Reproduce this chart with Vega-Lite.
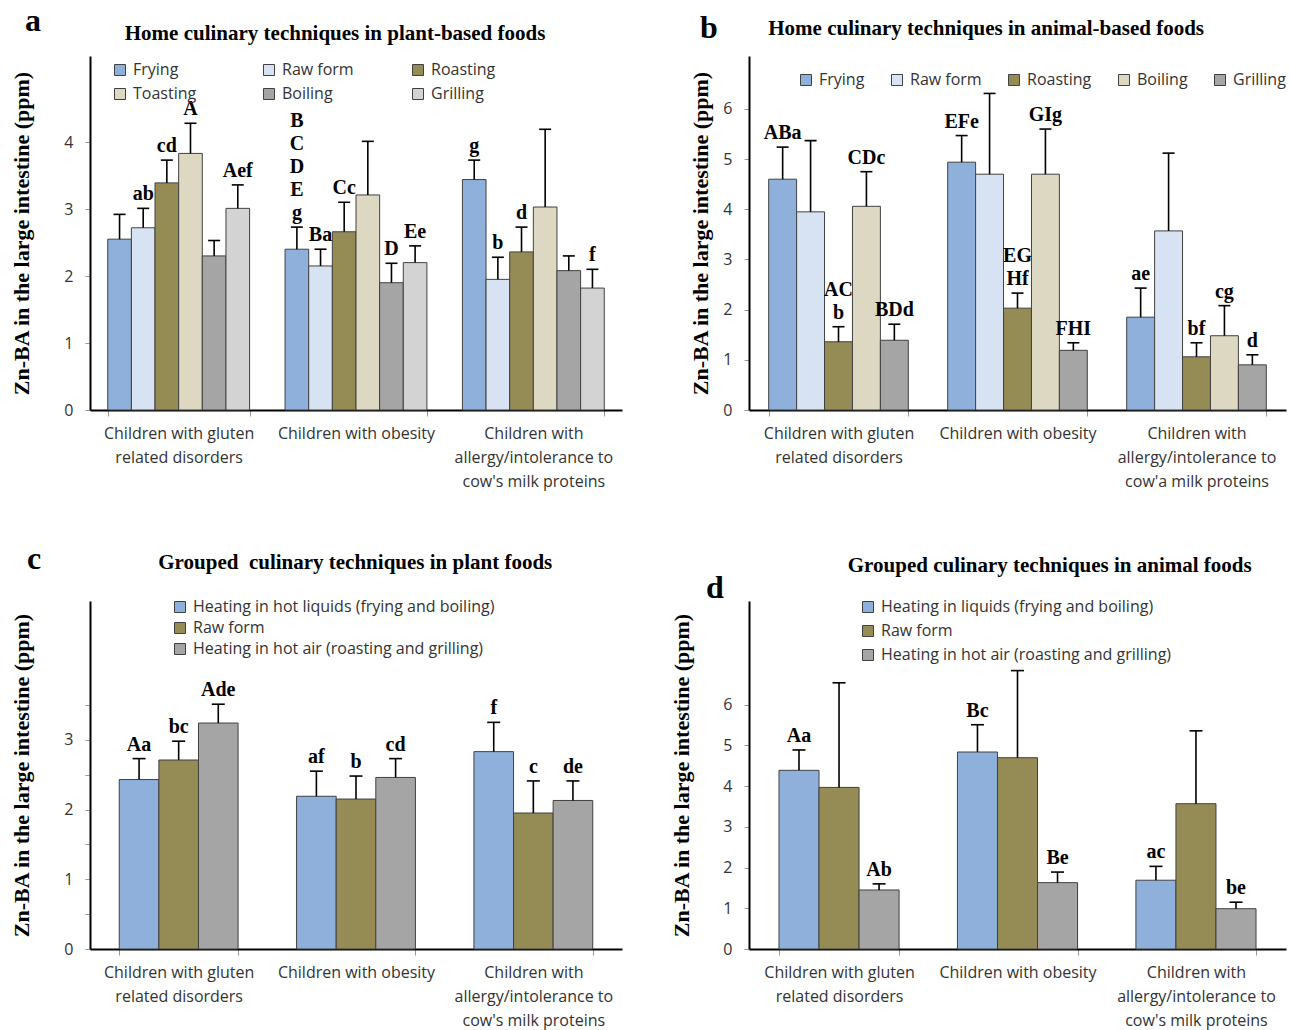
{
 "$schema": "https://vega.github.io/schema/vega-lite/v6.json",
 "background": "white",
 "padding": {"left": 10, "top": 5, "right": 2, "bottom": 2},
 "config": {
  "view": {"stroke": null},
  "axisX": {"labelAngle": 0, "labelExpr": "split(datum.label, '|')", "tickBand": "extent", "tickSize": 6, "tickColor": "#999", "domainColor": "#000", "domainWidth": 2, "labelFont": "Open Sans", "labelFontSize": 16, "labelColor": "#333", "labelLineHeight": 24, "labelPadding": 9, "labelLimit": 300, "grid": false},
  "axisY": {"grid": false, "format": "d", "domainColor": "#000", "domainWidth": 2, "tickColor": "#999", "tickSize": 5, "labelPadding": 12, "labelFont": "Open Sans", "labelFontSize": 16, "labelColor": "#333", "titleFont": "Liberation Serif", "titleFontSize": 22, "titleFontWeight": "bold", "titleColor": "#000"},
  "legend": {"orient": "none", "symbolType": "square", "symbolSize": 121, "symbolStrokeColor": "#404040", "symbolStrokeWidth": 1, "labelFont": "Open Sans", "labelFontSize": 16, "labelColor": "#333", "labelLimit": 400, "padding": 0, "labelOffset": 5},
  "title": {"font": "Liberation Serif", "fontWeight": "bold", "fontSize": 32, "color": "#000", "baseline": "top", "frame": "group", "anchor": "start", "subtitleFont": "Liberation Serif", "subtitleFontWeight": "bold", "subtitleFontSize": 21, "subtitleColor": "#000"}
 },
 "datasets": {
  "pa": [
   {"g": "Children with gluten|related disorders", "m": "Frying", "v": 2.55, "e": 2.92, "lab": ""},
   {"g": "Children with gluten|related disorders", "m": "Raw form", "v": 2.72, "e": 3.01, "lab": "ab"},
   {"g": "Children with gluten|related disorders", "m": "Roasting", "v": 3.39, "e": 3.73, "lab": "cd"},
   {"g": "Children with gluten|related disorders", "m": "Toasting", "v": 3.83, "e": 4.28, "lab": "A"},
   {"g": "Children with gluten|related disorders", "m": "Boiling", "v": 2.30, "e": 2.53, "lab": ""},
   {"g": "Children with gluten|related disorders", "m": "Grilling", "v": 3.01, "e": 3.36, "lab": "Aef"},
   {"g": "Children with obesity", "m": "Frying", "v": 2.40, "e": 2.73, "lab": "B\nC\nD\nE\ng"},
   {"g": "Children with obesity", "m": "Raw form", "v": 2.15, "e": 2.40, "lab": "Ba"},
   {"g": "Children with obesity", "m": "Roasting", "v": 2.66, "e": 3.10, "lab": "Cc"},
   {"g": "Children with obesity", "m": "Toasting", "v": 3.21, "e": 4.01, "lab": ""},
   {"g": "Children with obesity", "m": "Boiling", "v": 1.90, "e": 2.19, "lab": "D"},
   {"g": "Children with obesity", "m": "Grilling", "v": 2.20, "e": 2.45, "lab": "Ee"},
   {"g": "Children with|allergy/intolerance to|cow's milk proteins", "m": "Frying", "v": 3.44, "e": 3.73, "lab": "g"},
   {"g": "Children with|allergy/intolerance to|cow's milk proteins", "m": "Raw form", "v": 1.95, "e": 2.28, "lab": "b"},
   {"g": "Children with|allergy/intolerance to|cow's milk proteins", "m": "Roasting", "v": 2.36, "e": 2.73, "lab": "d"},
   {"g": "Children with|allergy/intolerance to|cow's milk proteins", "m": "Toasting", "v": 3.03, "e": 4.19, "lab": ""},
   {"g": "Children with|allergy/intolerance to|cow's milk proteins", "m": "Boiling", "v": 2.08, "e": 2.30, "lab": ""},
   {"g": "Children with|allergy/intolerance to|cow's milk proteins", "m": "Grilling", "v": 1.82, "e": 2.10, "lab": "f"}
  ],
  "pb": [
   {"g": "Children with gluten|related disorders", "m": "Frying", "v": 4.60, "e": 5.24, "lab": "ABa"},
   {"g": "Children with gluten|related disorders", "m": "Raw form", "v": 3.95, "e": 5.37, "lab": ""},
   {"g": "Children with gluten|related disorders", "m": "Roasting", "v": 1.36, "e": 1.66, "lab": "AC\nb"},
   {"g": "Children with gluten|related disorders", "m": "Boiling", "v": 4.06, "e": 4.75, "lab": "CDc"},
   {"g": "Children with gluten|related disorders", "m": "Grilling", "v": 1.39, "e": 1.71, "lab": "BDd"},
   {"g": "Children with obesity", "m": "Frying", "v": 4.94, "e": 5.47, "lab": "EFe"},
   {"g": "Children with obesity", "m": "Raw form", "v": 4.70, "e": 6.31, "lab": ""},
   {"g": "Children with obesity", "m": "Roasting", "v": 2.03, "e": 2.33, "lab": "EG\nHf"},
   {"g": "Children with obesity", "m": "Boiling", "v": 4.70, "e": 5.60, "lab": "GIg"},
   {"g": "Children with obesity", "m": "Grilling", "v": 1.19, "e": 1.34, "lab": "FHI"},
   {"g": "Children with|allergy/intolerance to|cow'a milk proteins", "m": "Frying", "v": 1.85, "e": 2.43, "lab": "ae"},
   {"g": "Children with|allergy/intolerance to|cow'a milk proteins", "m": "Raw form", "v": 3.57, "e": 5.12, "lab": ""},
   {"g": "Children with|allergy/intolerance to|cow'a milk proteins", "m": "Roasting", "v": 1.06, "e": 1.34, "lab": "bf"},
   {"g": "Children with|allergy/intolerance to|cow'a milk proteins", "m": "Boiling", "v": 1.48, "e": 2.08, "lab": "cg"},
   {"g": "Children with|allergy/intolerance to|cow'a milk proteins", "m": "Grilling", "v": 0.90, "e": 1.10, "lab": "d"}
  ],
  "pc": [
   {"g": "Children with gluten|related disorders", "m": "Heating in hot liquids (frying and boiling)", "v": 2.43, "e": 2.73, "lab": "Aa"},
   {"g": "Children with gluten|related disorders", "m": "Raw form", "v": 2.71, "e": 2.98, "lab": "bc"},
   {"g": "Children with gluten|related disorders", "m": "Heating in hot air (roasting and grilling)", "v": 3.24, "e": 3.51, "lab": "Ade"},
   {"g": "Children with obesity", "m": "Heating in hot liquids (frying and boiling)", "v": 2.19, "e": 2.55, "lab": "af"},
   {"g": "Children with obesity", "m": "Raw form", "v": 2.15, "e": 2.48, "lab": "b"},
   {"g": "Children with obesity", "m": "Heating in hot air (roasting and grilling)", "v": 2.46, "e": 2.73, "lab": "cd"},
   {"g": "Children with|allergy/intolerance to|cow's milk proteins", "m": "Heating in hot liquids (frying and boiling)", "v": 2.83, "e": 3.25, "lab": "f"},
   {"g": "Children with|allergy/intolerance to|cow's milk proteins", "m": "Raw form", "v": 1.95, "e": 2.41, "lab": "c"},
   {"g": "Children with|allergy/intolerance to|cow's milk proteins", "m": "Heating in hot air (roasting and grilling)", "v": 2.13, "e": 2.41, "lab": "de"}
  ],
  "pd": [
   {"g": "Children with gluten|related disorders", "m": "Heating in liquids (frying and boiling)", "v": 4.39, "e": 4.89, "lab": "Aa"},
   {"g": "Children with gluten|related disorders", "m": "Raw form", "v": 3.97, "e": 6.54, "lab": ""},
   {"g": "Children with gluten|related disorders", "m": "Heating in hot air (roasting and grilling)", "v": 1.45, "e": 1.60, "lab": "Ab"},
   {"g": "Children with obesity", "m": "Heating in liquids (frying and boiling)", "v": 4.84, "e": 5.51, "lab": "Bc"},
   {"g": "Children with obesity", "m": "Raw form", "v": 4.70, "e": 6.84, "lab": ""},
   {"g": "Children with obesity", "m": "Heating in hot air (roasting and grilling)", "v": 1.63, "e": 1.89, "lab": "Be"},
   {"g": "Children with|allergy/intolerance to|cow's milk proteins", "m": "Heating in liquids (frying and boiling)", "v": 1.69, "e": 2.03, "lab": "ac"},
   {"g": "Children with|allergy/intolerance to|cow's milk proteins", "m": "Raw form", "v": 3.57, "e": 5.36, "lab": ""},
   {"g": "Children with|allergy/intolerance to|cow's milk proteins", "m": "Heating in hot air (roasting and grilling)", "v": 0.99, "e": 1.15, "lab": "be"}
  ]
 },
 "columns": 2,
 "bounds": "flush",
 "align": "all",
 "spacing": {"row": 191, "column": 122},
 "resolve": {"scale": {"color": "independent", "xOffset": "independent", "x": "independent", "y": "independent"}, "legend": {"color": "independent"}},
 "concat": [
  {
   "width": 532, "height": 354,
   "data": {"name": "pa"},
   "title": {"text": "a", "subtitle": "\u200b\u00a0\u00a0\u00a0\u00a0\u00a0\u00a0\u00a0\u00a0\u00a0\u00a0\u00a0\u00a0\u00a0\u00a0\u00a0\u00a0\u00a0\u00a0\u00a0Home culinary techniques in plant-based foods", "dx": -65, "offset": 11, "subtitlePadding": -15},
   "encoding": {
    "x": {"field": "g", "type": "nominal", "sort": null, "title": null, "scale": {"paddingInner": 0.2, "paddingOuter": 0.1}},
    "xOffset": {"field": "m", "type": "nominal", "sort": null, "scale": {"paddingInner": 0, "paddingOuter": 0}}
   },
   "layer": [
    {"mark": {"type": "bar", "stroke": "#404040", "strokeWidth": 1},
     "encoding": {
      "y": {"field": "v", "type": "quantitative", "title": "Zn-BA in the large intestine (ppm)", "scale": {"domain": [0, 5.284], "nice": false}, "axis": {"values": [0, 0.5, 1, 1.5, 2, 2.5, 3, 3.5, 4, 4.5], "labelExpr": "datum.value % 1 === 0 ? datum.label : ''", "titlePadding": 30}},
      "color": {"field": "m", "type": "nominal", "scale": {"domain": ["Frying", "Raw form", "Roasting", "Toasting", "Boiling", "Grilling"], "range": ["#8EB0DA", "#D7E3F2", "#958B55", "#DDD8C1", "#A5A5A5", "#D3D3D3"]}, "legend": {"title": null, "direction": "horizontal", "columns": 3, "gridAlign": "all", "columnPadding": 56, "rowPadding": 8, "legendX": 22, "legendY": 6}}
     }},
    {"mark": {"type": "rule", "color": "#000", "strokeWidth": 1.6}, "encoding": {"y": {"field": "v", "type": "quantitative", "title": "Zn-BA in the large intestine (ppm)"}, "y2": {"field": "e"}}},
    {"mark": {"type": "tick", "color": "#000", "thickness": 1.6, "size": 12, "opacity": 1}, "encoding": {"y": {"field": "e", "type": "quantitative", "title": "Zn-BA in the large intestine (ppm)"}}},
    {"transform": [{"filter": "indexof(datum.lab, '\\n') < 0"}], "mark": {"type": "text", "baseline": "bottom", "dy": -4, "font": "Liberation Serif", "fontSize": 20, "fontWeight": "bold", "color": "#000"}, "encoding": {"y": {"field": "e", "type": "quantitative", "title": "Zn-BA in the large intestine (ppm)"}, "text": {"field": "lab"}}},
    {"transform": [{"filter": "indexof(datum.lab, '\\n') >= 0"}], "mark": {"type": "text", "baseline": "bottom", "dy": -96, "font": "Liberation Serif", "fontSize": 20, "fontWeight": "bold", "lineBreak": "\n", "lineHeight": 23, "color": "#000"}, "encoding": {"y": {"field": "e", "type": "quantitative", "title": "Zn-BA in the large intestine (ppm)"}, "text": {"field": "lab"}}}
   ]
  },
  {
   "width": 537, "height": 354,
   "data": {"name": "pb"},
   "title": {"text": "b", "subtitle": "\u200b\u00a0\u00a0\u00a0\u00a0\u00a0\u00a0\u00a0\u00a0\u00a0\u00a0\u00a0\u00a0\u00a0Home culinary techniques in animal-based foods", "dx": -49, "offset": 11, "subtitlePadding": -27},
   "encoding": {
    "x": {"field": "g", "type": "nominal", "sort": null, "title": null, "scale": {"paddingInner": 0.22, "paddingOuter": 0.11}},
    "xOffset": {"field": "m", "type": "nominal", "sort": null, "scale": {"paddingInner": 0, "paddingOuter": 0}}
   },
   "layer": [
    {"mark": {"type": "bar", "stroke": "#404040", "strokeWidth": 1},
     "encoding": {
      "y": {"field": "v", "type": "quantitative", "title": "Zn-BA in the large intestine (ppm)", "scale": {"domain": [0, 7.056], "nice": false}, "axis": {"values": [0, 1, 2, 3, 4, 5, 6], "titlePadding": 10}},
      "color": {"field": "m", "type": "nominal", "scale": {"domain": ["Frying", "Raw form", "Roasting", "Boiling", "Grilling"], "range": ["#8EB0DA", "#D7E3F2", "#958B55", "#DDD8C1", "#A5A5A5"]}, "legend": {"title": null, "direction": "horizontal", "columns": 5, "gridAlign": "each", "columnPadding": 24, "legendX": 49, "legendY": 16}}
     }},
    {"mark": {"type": "rule", "color": "#000", "strokeWidth": 1.6}, "encoding": {"y": {"field": "v", "type": "quantitative", "title": "Zn-BA in the large intestine (ppm)"}, "y2": {"field": "e"}}},
    {"mark": {"type": "tick", "color": "#000", "thickness": 1.6, "size": 12, "opacity": 1}, "encoding": {"y": {"field": "e", "type": "quantitative", "title": "Zn-BA in the large intestine (ppm)"}}},
    {"transform": [{"filter": "indexof(datum.lab, '\\n') < 0"}], "mark": {"type": "text", "baseline": "bottom", "dy": -4, "font": "Liberation Serif", "fontSize": 20, "fontWeight": "bold", "color": "#000"}, "encoding": {"y": {"field": "e", "type": "quantitative", "title": "Zn-BA in the large intestine (ppm)"}, "text": {"field": "lab"}}},
    {"transform": [{"filter": "indexof(datum.lab, '\\n') >= 0"}], "mark": {"type": "text", "baseline": "bottom", "dy": -27, "font": "Liberation Serif", "fontSize": 20, "fontWeight": "bold", "lineBreak": "\n", "lineHeight": 23, "color": "#000"}, "encoding": {"y": {"field": "e", "type": "quantitative", "title": "Zn-BA in the large intestine (ppm)"}, "text": {"field": "lab"}}}
   ]
  },
  {
   "width": 532, "height": 348,
   "data": {"name": "pc"},
   "title": {"text": "c", "subtitle": "\u200b\u00a0\u00a0\u00a0\u00a0\u00a0\u00a0\u00a0\u00a0\u00a0\u00a0\u00a0\u00a0\u00a0\u00a0\u00a0\u00a0\u00a0\u00a0\u00a0\u00a0\u00a0\u00a0\u00a0\u00a0\u00a0Grouped\u00a0 culinary techniques in plant foods", "dx": -63, "offset": 23, "subtitlePadding": -24},
   "encoding": {
    "x": {"field": "g", "type": "nominal", "sort": null, "title": null, "scale": {"paddingInner": 0.33, "paddingOuter": 0.165}},
    "xOffset": {"field": "m", "type": "nominal", "sort": null, "scale": {"paddingInner": 0, "paddingOuter": 0}}
   },
   "layer": [
    {"mark": {"type": "bar", "stroke": "#404040", "strokeWidth": 1},
     "encoding": {
      "y": {"field": "v", "type": "quantitative", "title": "Zn-BA in the large intestine (ppm)", "scale": {"domain": [0, 4.99], "nice": false}, "axis": {"values": [0, 0.5, 1, 1.5, 2, 2.5, 3, 3.5], "labelExpr": "datum.value % 1 === 0 ? datum.label : ''", "titlePadding": 30}},
      "color": {"field": "m", "type": "nominal", "scale": {"domain": ["Heating in hot liquids (frying and boiling)", "Raw form", "Heating in hot air (roasting and grilling)"], "range": ["#8EB0DA", "#958B55", "#A5A5A5"]}, "legend": {"title": null, "columns": 1, "rowPadding": 5, "legendX": 82, "legendY": -2}}
     }},
    {"mark": {"type": "rule", "color": "#000", "strokeWidth": 1.6}, "encoding": {"y": {"field": "v", "type": "quantitative", "title": "Zn-BA in the large intestine (ppm)"}, "y2": {"field": "e"}}},
    {"mark": {"type": "tick", "color": "#000", "thickness": 1.6, "size": 13, "opacity": 1}, "encoding": {"y": {"field": "e", "type": "quantitative", "title": "Zn-BA in the large intestine (ppm)"}}},
    {"mark": {"type": "text", "baseline": "bottom", "dy": -4, "font": "Liberation Serif", "fontSize": 20, "fontWeight": "bold", "color": "#000"}, "encoding": {"y": {"field": "e", "type": "quantitative", "title": "Zn-BA in the large intestine (ppm)"}, "text": {"field": "lab"}}}
   ]
  },
  {
   "width": 537, "height": 348,
   "data": {"name": "pd"},
   "title": {"text": "d", "subtitle": "\u200b\u00a0\u00a0\u00a0\u00a0\u00a0\u00a0\u00a0\u00a0\u00a0\u00a0\u00a0\u00a0\u00a0\u00a0\u00a0\u00a0\u00a0\u00a0\u00a0\u00a0\u00a0\u00a0\u00a0\u00a0\u00a0\u00a0\u00a0Grouped culinary techniques in animal foods", "dx": -43, "offset": -23, "subtitlePadding": -50},
   "encoding": {
    "x": {"field": "g", "type": "nominal", "sort": null, "title": null, "scale": {"paddingInner": 0.327, "paddingOuter": 0.168}},
    "xOffset": {"field": "m", "type": "nominal", "sort": null, "scale": {"paddingInner": 0, "paddingOuter": 0}}
   },
   "layer": [
    {"mark": {"type": "bar", "stroke": "#404040", "strokeWidth": 1},
     "encoding": {
      "y": {"field": "v", "type": "quantitative", "title": "Zn-BA in the large intestine (ppm)", "scale": {"domain": [0, 8.55], "nice": false}, "axis": {"values": [0, 1, 2, 3, 4, 5, 6], "titlePadding": 29}},
      "color": {"field": "m", "type": "nominal", "scale": {"domain": ["Heating in liquids (frying and boiling)", "Raw form", "Heating in hot air (roasting and grilling)"], "range": ["#8EB0DA", "#958B55", "#A5A5A5"]}, "legend": {"title": null, "columns": 1, "rowPadding": 8, "legendX": 111, "legendY": -2}}
     }},
    {"mark": {"type": "rule", "color": "#000", "strokeWidth": 1.6}, "encoding": {"y": {"field": "v", "type": "quantitative", "title": "Zn-BA in the large intestine (ppm)"}, "y2": {"field": "e"}}},
    {"mark": {"type": "tick", "color": "#000", "thickness": 1.6, "size": 13, "opacity": 1}, "encoding": {"y": {"field": "e", "type": "quantitative", "title": "Zn-BA in the large intestine (ppm)"}}},
    {"mark": {"type": "text", "baseline": "bottom", "dy": -4, "font": "Liberation Serif", "fontSize": 20, "fontWeight": "bold", "color": "#000"}, "encoding": {"y": {"field": "e", "type": "quantitative", "title": "Zn-BA in the large intestine (ppm)"}, "text": {"field": "lab"}}}
   ]
  }
 ]
}
